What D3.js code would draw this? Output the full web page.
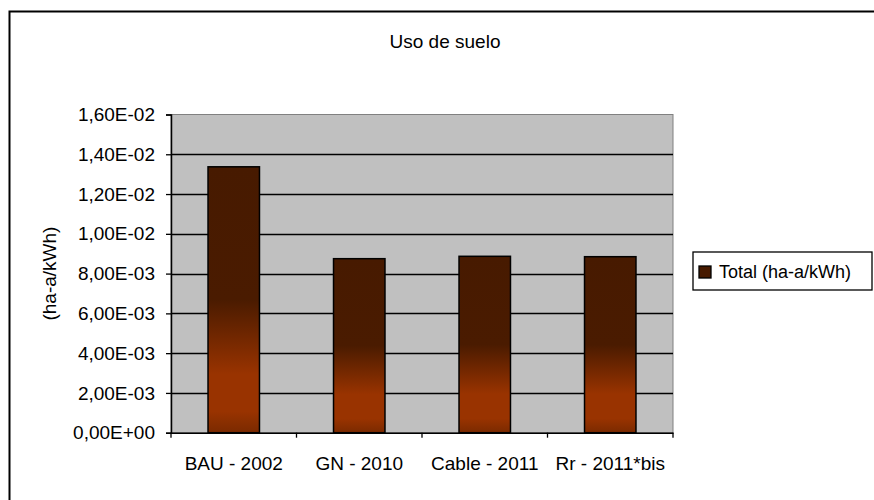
<!DOCTYPE html>
<html lang="es">
<head>
<meta charset="utf-8">
<title>Uso de suelo</title>
<script src="https://cdnjs.cloudflare.com/ajax/libs/d3/7.8.5/d3.min.js"></script>
<style>
  body { margin: 0; background: #fff; }
  text { font-family: "Liberation Sans", Arial, sans-serif; fill: #000; }
</style>
</head>
<body>
<div id="chart"></div>
<script>
// data
var categories = ["BAU - 2002", "GN - 2010", "Cable - 2011", "Rr - 2011*bis"];
var totals = [0.01337, 0.00875, 0.00887, 0.00885];
var yTicks = [0, 0.002, 0.004, 0.006, 0.008, 0.010, 0.012, 0.014, 0.016];
var seriesName = "Total (ha-a/kWh)";

var width = 874, height = 500;
var plot = { left: 171, right: 673, top: 114.5, bottom: 432.7 };

var svg = d3.select("#chart").append("svg")
  .attr("width", width)
  .attr("height", height);

// gradient like the excel fill
var grad = svg.append("defs").append("linearGradient")
  .attr("id", "barFill")
  .attr("x1", 0).attr("y1", 0).attr("x2", 0).attr("y2", 1);
[[0, "#471a00"], [0.5, "#4a1b00"], [0.78, "#993300"], [0.92, "#993300"], [1, "#7a2a00"]]
  .forEach(function(s) {
    grad.append("stop").attr("offset", s[0]).attr("stop-color", s[1]);
  });

// outer frame (runs past the right and bottom edges)
svg.append("rect")
  .attr("x", 9.5).attr("y", 11.5)
  .attr("width", 900).attr("height", 520)
  .attr("fill", "#fff")
  .attr("stroke", "#000")
  .attr("stroke-width", 2);

var x = d3.scaleBand()
  .domain(categories)
  .range([plot.left, plot.right]);

var y = d3.scaleLinear()
  .domain([0, 0.016])
  .range([plot.bottom, plot.top]);

// plot background
svg.append("rect")
  .attr("x", plot.left).attr("y", plot.top)
  .attr("width", plot.right - plot.left)
  .attr("height", plot.bottom - plot.top)
  .attr("fill", "#c0c0c0")
  .attr("stroke", "#808080");

// gridlines
svg.append("g")
  .selectAll("line")
  .data(yTicks.slice(1, -1))
  .enter().append("line")
    .attr("x1", plot.left).attr("x2", plot.right)
    .attr("y1", function(d) { return Math.round(y(d)) + 0.5; })
    .attr("y2", function(d) { return Math.round(y(d)) + 0.5; })
    .attr("stroke", "#000")
    .attr("stroke-width", 1.3);

// bars
var bw = x.bandwidth() * 0.41;
svg.append("g")
  .selectAll("rect")
  .data(categories)
  .enter().append("rect")
    .attr("x", function(d) { return x(d) + (x.bandwidth() - bw) / 2; })
    .attr("y", function(d, i) { return y(totals[i]); })
    .attr("width", bw)
    .attr("height", function(d, i) { return y(0) - y(totals[i]); })
    .attr("fill", "url(#barFill)")
    .attr("stroke", "#000")
    .attr("stroke-width", 1.5);

function fmt(v) {
  var p = v.toExponential(2).split("e");
  var e = +p[1];
  return p[0].replace(".", ",") + "E" + (e < 0 ? "-" : "+") + d3.format("02d")(Math.abs(e));
}

// y axis
var yAxis = svg.append("g")
  .attr("transform", "translate(" + plot.left + ",0)")
  .call(d3.axisLeft(y).tickValues(yTicks).tickSize(5).tickPadding(11).tickFormat(fmt));
yAxis.select(".domain").attr("stroke", "#000").attr("stroke-width", 1.5);
yAxis.selectAll(".tick line").attr("stroke", "#000").attr("stroke-width", 1.3);
yAxis.selectAll("text").attr("font-size", 19)
  .style("font-family", "'Liberation Sans', Arial, sans-serif");

// x axis
var xAxis = svg.append("g")
  .attr("transform", "translate(0," + plot.bottom + ")")
  .call(d3.axisBottom(x).tickSize(0).tickPadding(24));
xAxis.select(".domain").attr("stroke", "#000").attr("stroke-width", 1.5);
xAxis.selectAll("text").attr("font-size", 19)
  .style("font-family", "'Liberation Sans', Arial, sans-serif");

// category separators below the axis
var bounds = categories.map(function(d) { return x(d); }).concat([plot.right]);
svg.append("g")
  .selectAll("line")
  .data(bounds)
  .enter().append("line")
    .attr("x1", function(d) { return d; }).attr("x2", function(d) { return d; })
    .attr("y1", plot.bottom).attr("y2", plot.bottom + 5)
    .attr("stroke", "#000")
    .attr("stroke-width", 1.3);

// title
svg.append("text")
  .attr("x", 445).attr("y", 48)
  .attr("text-anchor", "middle")
  .attr("font-size", 19)
  .text("Uso de suelo");

// y axis title
svg.append("text")
  .attr("transform", "translate(56," + ((plot.top + plot.bottom) / 2) + ") rotate(-90)")
  .attr("text-anchor", "middle")
  .attr("font-size", 19)
  .text("(ha-a/kWh)");

// legend
var lg = svg.append("g").attr("transform", "translate(693,252)");
lg.append("rect")
  .attr("width", 179).attr("height", 38)
  .attr("fill", "#fff")
  .attr("stroke", "#000")
  .attr("stroke-width", 1.3);
lg.append("rect")
  .attr("x", 6).attr("y", 14)
  .attr("width", 12).attr("height", 12)
  .attr("fill", "#471a00")
  .attr("stroke", "#000")
  .attr("stroke-width", 1.3);
lg.append("text")
  .attr("x", 26).attr("y", 26)
  .attr("font-size", 18)
  .text(seriesName);
</script>
</body>
</html>
